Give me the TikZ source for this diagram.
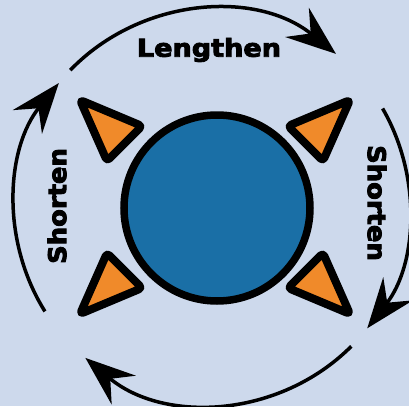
\documentclass[tikz,border=0pt]{standalone}
\usepackage{fontspec}
\usepackage{graphicx}
\setmainfont{DejaVu Sans}
\usetikzlibrary{arrows.meta}

\definecolor{bgblue}{HTML}{CDD9EC}
\definecolor{ballblue}{HTML}{1A6FA6}
\definecolor{wedge}{HTML}{F08A2A}

\tikzset{
  turn/.style={line width=0.07cm, -{Stealth[length=1cm, width=0.75cm, inset=0.35cm]}},
  label/.style={font=\bfseries\fontsize{14}{16}\selectfont\addfontfeature{FakeBold=3.5}, inner sep=0pt}
}

\begin{document}
\begin{tikzpicture}[x=0.02cm, y=0.02cm]
        % Hintergrund
        \fill[bgblue] (-215,-199) rectangle (194,207);
        \useasboundingbox (-215,-199) rectangle (194,207);

        \coordinate (ctr) at (-3,0);

        % Pfeile im Uhrzeigersinn
        \draw[turn] (ctr) ++(136:197) arc[start angle=136, end angle=51, radius=197];
        \draw[turn] (ctr) ++(30:197) arc[start angle=30, end angle=-38, radius=197];
        \draw[turn] (ctr) ++(-45:197) arc[start angle=-45, end angle=-130, radius=197];
        \draw[turn] (ctr) ++(212:197) arc[start angle=212, end angle=141, radius=197];

        % Dreiecke
        \foreach \sx/\sy in {1/1, -1/1, 1/-1, -1/-1} {
                \begin{scope}[xscale=\sx, yscale=\sy]
                    \filldraw[fill=wedge, draw=black, line width=0.16cm, line join=round, rounded corners=2]
                    (-135,107) -- (-73,81) -- (-108,46) -- cycle;
                \end{scope}
            }

        % Kugel
        \filldraw[fill=ballblue, draw=black, line width=0.15cm] (2,-1) circle(93);

        % Beschriftung
        \node[label] (lengthen) at (-6,157) {\scalebox{1.1}[1]{Lengthen}};
        \node[label, rotate=90] (shortenl) at (-158,1) {\scalebox{1.05}[1]{Shorten}};
        \node[label, rotate=-90] (shortenr) at (162,4) {\scalebox{1.05}[1]{Shorten}};

    \end{tikzpicture}
\end{document}
